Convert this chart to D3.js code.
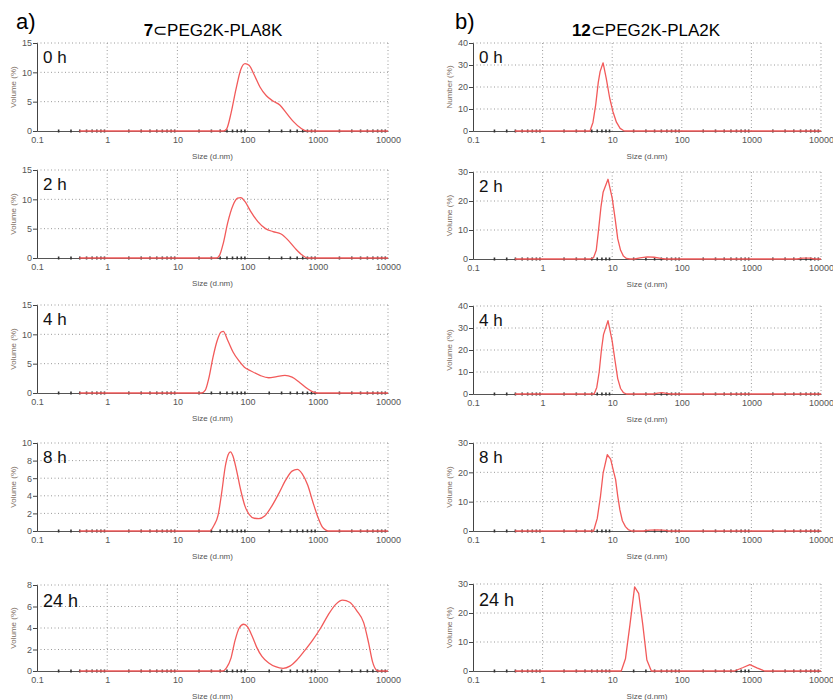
<!DOCTYPE html>
<html>
<head>
<meta charset="utf-8">
<script src="https://cdn.jsdelivr.net/npm/d3@7"></script>
<style>
  body { margin: 0; background: #fff; }
  svg text { font-family: "Liberation Sans", Arial, sans-serif; }
</style>
</head>
<body>
<svg id="chart" width="833" height="700"></svg>
<script>
// size (d.nm) vs percent
var a_0h = [[0.4,0],[45,0],[50,0.3],[58,3],[68,7],[80,10.5],[92,11.5],[105,11.2],[125,9.5],[150,7.5],[185,6],[230,5.1],[290,4.4],[360,3],[450,1.6],[570,0.5],[700,0],[10000,0]];
var a_2h = [[0.4,0],[36,0],[40,0.5],[45,2.5],[52,6],[62,9],[72,10.2],[80,10.3],[92,9.6],[110,8],[140,6.2],[180,5],[230,4.5],[300,4.1],[380,3],[480,1.6],[600,0.5],[720,0],[10000,0]];
var a_4h = [[0.4,0],[22,0],[25,0.5],[28,2.5],[32,6],[37,9],[42,10.4],[45,10.5],[52,9],[62,7],[75,5.5],[90,4.4],[110,3.8],[150,3],[200,2.6],[260,2.8],[340,3],[430,2.7],[550,1.8],[700,0.8],[850,0.2],[1000,0],[10000,0]];
var a_8h = [[0.4,0],[29,0],[33,0.6],[38,1.8],[43,4.5],[48,7.3],[53,8.7],[57,9],[62,8.5],[70,6.8],[80,4.6],[92,2.8],[105,1.9],[125,1.45],[145,1.4],[175,1.7],[220,2.8],[280,4.3],[350,5.8],[430,6.8],[510,7],[600,6.5],[720,5.2],[850,3.3],[1000,1.6],[1150,0.5],[1300,0.1],[1400,0],[10000,0]];
var a_24h = [[0.4,0],[44,0],[50,0.3],[58,1.2],[66,2.8],[76,4],[88,4.35],[100,4.1],[115,3.3],[135,2.2],[160,1.35],[200,0.75],[250,0.4],[320,0.25],[400,0.45],[500,1],[650,1.9],[850,2.9],[1100,4],[1400,5.2],[1800,6.2],[2250,6.6],[2850,6.4],[3600,5.6],[4500,4.5],[5300,2.6],[6000,0.9],[6800,0.1],[7300,0],[10000,0]];

var b_0h = [[0.4,0],[4.8,0],[5.3,4],[5.8,12],[6.3,22],[6.7,27],[7.4,31],[8.2,24],[9.2,15],[10.2,9],[11.5,4],[13,1.2],[14.5,0.2],[15.5,0],[10000,0]];
var b_2h = [[0.4,0],[4.8,0],[5.4,0.5],[5.9,3],[6.3,9],[6.9,18],[7.4,23],[8.7,27.5],[10,21],[11,14],[12,7],[13.2,3],[14.5,1],[16,0.2],[18,0],[21,0],[25,0.4],[32,0.7],[40,0.6],[50,0.2],[58,0],[4500,0],[5500,0.3],[7000,0.3],[8000,0],[10000,0]];
var b_4h = [[0.4,0],[5.5,0],[6,3],[6.5,10],[7,20],[7.5,27],[8.7,33.3],[10,24],[11,15],[12,7],[13.2,2.5],[14.5,0.6],[16,0],[40,0],[45,0.4],[52,0.6],[60,0.3],[70,0],[10000,0]];
var b_8h = [[0.4,0],[5.4,0],[6.1,4.3],[6.8,12],[7.4,19.7],[8.5,26],[9.5,24.5],[10.3,21],[11.2,17.5],[12,12],[12.9,7.2],[14,3.5],[15.5,1.5],[17,0.5],[19,0],[28,0],[35,0.3],[45,0.4],[58,0.2],[65,0],[10000,0]];
var b_24h = [[0.4,0],[13.5,0],[15.5,4.2],[18,16],[21,29],[24,26.8],[27.5,16],[31.5,3.8],[36.5,0],[570,0],[760,1.2],[950,2.2],[1200,1.1],[1550,0],[10000,0]];

var timeLabels = ["0 h", "2 h", "4 h", "8 h", "24 h"];
var sizeTicks = [0.1, 1, 10, 100, 1000, 10000];
var yMaxA = [15, 15, 15, 10, 8], yStepA = [5, 5, 5, 2, 2];
var yMaxB = [40, 30, 40, 30, 30], yStepB = [10, 10, 10, 10, 10];
var yTitleA = ["Volume (%)", "Volume (%)", "Volume (%)", "Volume (%)", "Volume (%)"];
var yTitleB = ["Number (%)", "Volume (%)", "Volume (%)", "Volume (%)", "Volume (%)"];
var seriesA = [a_0h, a_2h, a_4h, a_8h, a_24h];
var seriesB = [b_0h, b_2h, b_4h, b_8h, b_24h];

// panel boxes (left, right, top, bottom)
var colX = [[37, 388], [473, 821]];
var rowsA = [[43, 131], [170, 258], [305, 393], [443, 531], [585, 671]];
var rowsB = [[43, 131], [172, 259], [306, 394], [443, 531], [584, 671]];

var svg = d3.select("#chart");

// column headings
svg.append("text").attr("x", 16).attr("y", 29).attr("font-size", 22).text("a)");
svg.append("text").attr("x", 455).attr("y", 29).attr("font-size", 22).text("b)");
var t1 = svg.append("text").attr("x", 213).attr("y", 36).attr("text-anchor", "middle").attr("font-size", 17);
t1.append("tspan").attr("font-weight", "bold").text("7");
t1.append("tspan").text("\u2282PEG2K-PLA8K");
var t2 = svg.append("text").attr("x", 646).attr("y", 36).attr("text-anchor", "middle").attr("font-size", 17);
t2.append("tspan").attr("font-weight", "bold").text("12");
t2.append("tspan").text("\u2282PEG2K-PLA2K");

var minorX = [];
[0.1, 1, 10, 100, 1000].forEach(function (d) {
    for (var k = 2; k <= 9; k++) minorX.push(d * k);
});

var drawPanel = function (box, rows, data, yMax, yStep, yTitle, label, big, curve) {
    var x0 = box[0], x1 = box[1], y0 = rows[0], y1 = rows[1];
    var x = d3.scaleLog().domain([0.1, 10000]).range([x0, x1]);
    var y = d3.scaleLinear().domain([0, yMax]).range([y1, y0]);
    var g = svg.append("g");
    var yMajor = d3.range(0, yMax + 0.001, yStep);
    var yMinor = d3.range(yStep / 2, yMax, yStep);

    // dotted grid
    var grid = g.append("g").attr("stroke", "#9a9a9a").attr("stroke-width", 1)
        .attr("stroke-dasharray", "1,2.5");
    grid.selectAll("line.v").data(sizeTicks.slice(1)).enter().append("line")
        .attr("x1", function (d) { return x(d); }).attr("x2", function (d) { return x(d); })
        .attr("y1", y0).attr("y2", y1);
    grid.selectAll("line.h").data(yMajor.slice(1)).enter().append("line")
        .attr("x1", x0).attr("x2", x1)
        .attr("y1", function (d) { return y(d); }).attr("y2", function (d) { return y(d); });

    // y axis
    var ya = g.append("g").attr("transform", "translate(" + x0 + ",0)")
        .call(d3.axisLeft(y).tickValues(yMajor).tickSize(4).tickPadding(1).tickFormat(d3.format("d")));
    ya.select(".domain").attr("stroke", "#444");
    ya.selectAll(".tick line").attr("stroke", "#444");
    ya.selectAll("text").attr("font-size", 9).attr("fill", "#555").attr("font-family", "Liberation Sans, Arial");
    var ym = g.append("g").attr("transform", "translate(" + x0 + ",0)")
        .call(d3.axisLeft(y).tickValues(yMinor).tickSize(3).tickFormat(""));
    ym.select(".domain").remove();
    ym.selectAll(".tick line").attr("stroke", "#444").attr("x2", 1);

    // x axis
    var xa = g.append("g").attr("transform", "translate(0," + y1 + ")")
        .call(d3.axisBottom(x).tickValues(sizeTicks).tickSize(0).tickPadding(6).tickFormat(function (d) { return d; }));
    xa.select(".domain").attr("stroke", "#555").attr("stroke-width", 1.2);
    xa.selectAll("text").attr("font-size", 9).attr("fill", "#555").attr("font-family", "Liberation Sans, Arial");
    var xm = g.append("g").attr("transform", "translate(0," + y1 + ")")
        .call(d3.axisBottom(x).tickValues(minorX).tickSize(1.5).tickFormat(""));
    xm.select(".domain").remove();
    xm.selectAll(".tick line").attr("stroke", "#333").attr("stroke-width", 1.6).attr("y1", -1.5);

    // titles
    g.append("text").attr("x", (x0 + x1) / 2).attr("y", y1 + 28).attr("text-anchor", "middle")
        .attr("font-size", 8).attr("fill", "#555").text("Size (d.nm)");
    g.append("text").attr("transform", "translate(" + (x0 - 21) + "," + ((y0 + y1) / 2) + ") rotate(-90)")
        .attr("text-anchor", "middle").attr("font-size", 8).attr("fill", "#7d6e63").text(yTitle);

    // distribution curve
    var line = d3.line()
        .x(function (d) { return x(d[0]); })
        .y(function (d) { return y(d[1]); })
        .curve(curve);
    g.append("path").datum(data).attr("fill", "none").attr("stroke", "#f25a5a")
        .attr("stroke-width", 1.3).attr("stroke-linejoin", "round").attr("d", line);

    g.append("text").attr("x", x0 + 6).attr("y", big ? y0 + 22 : y0 + 20)
        .attr("font-size", big ? 18 : 17).attr("fill", "#111").text(label);
};

for (var i = 0; i < 5; i++) {
    drawPanel(colX[0], rowsA[i], seriesA[i], yMaxA[i], yStepA[i], yTitleA[i], timeLabels[i], i === 4, d3.curveMonotoneX);
    drawPanel(colX[1], rowsB[i], seriesB[i], yMaxB[i], yStepB[i], yTitleB[i], timeLabels[i], i === 4, d3.curveLinear);
}
</script>
</body>
</html>
